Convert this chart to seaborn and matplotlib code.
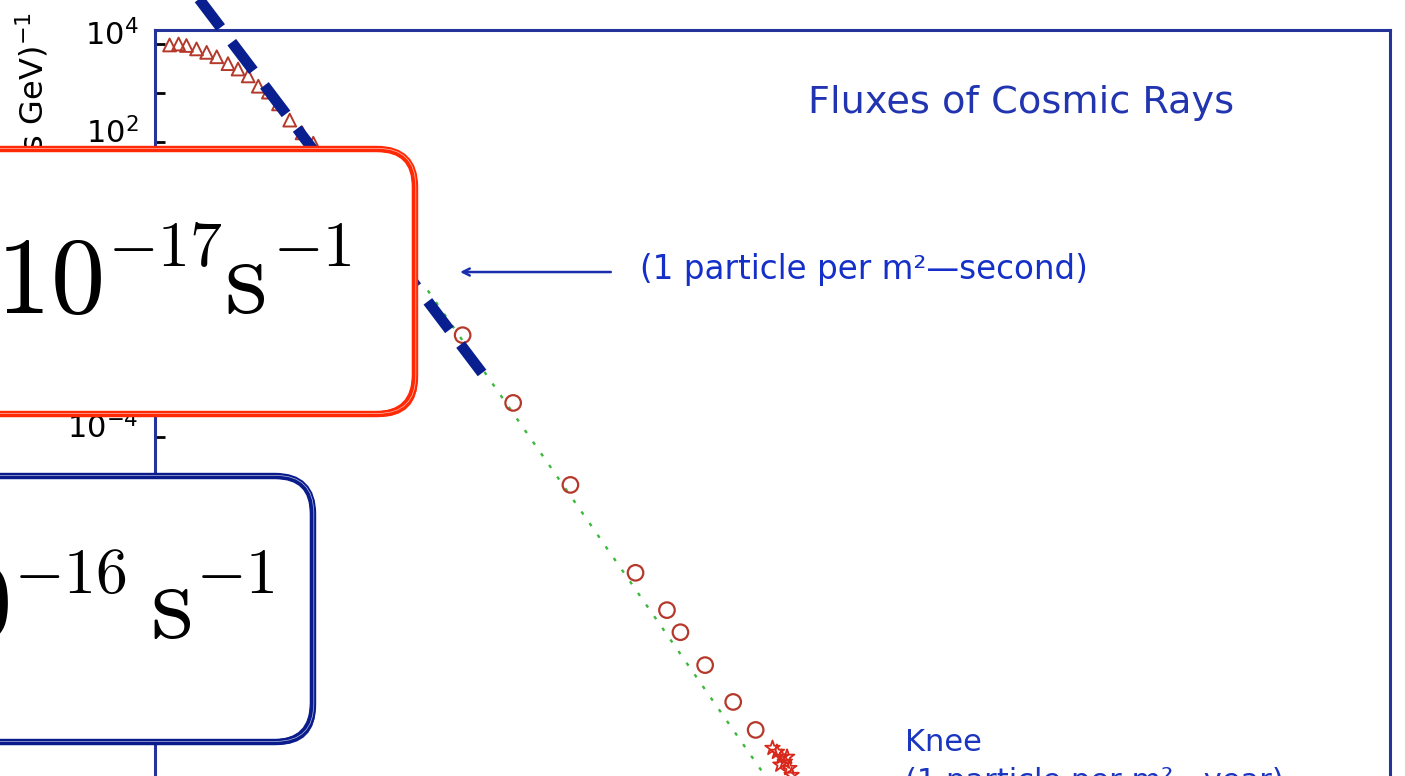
import numpy as np
import matplotlib
matplotlib.use("Agg")
import matplotlib.pyplot as plt
import matplotlib.transforms as mtransforms
from matplotlib.patches import FancyBboxPatch
from matplotlib.ticker import FixedLocator, FuncFormatter, NullLocator
import pandas as pd
import seaborn as sns

# Cosmic-ray all-particle spectrum: log10 energy (eV) and log10 flux (m^2 sr s GeV)^-1
low_log_energy = [9.13, 9.21, 9.28, 9.37, 9.46, 9.55, 9.65, 9.74, 9.83, 9.92, 10.01, 10.10, 10.20, 10.31, 10.41]
low_log_flux = [3.98, 4.00, 3.97, 3.90, 3.83, 3.74, 3.60, 3.49, 3.35, 3.14, 3.02, 2.78, 2.45, 2.19, 1.98]

mid_log_energy = [11.74, 12.19, 12.70, 13.28, 13.56, 13.68, 13.90, 14.15, 14.35]
mid_log_flux = [-1.93, -3.31, -4.98, -6.77, -7.53, -7.98, -8.65, -9.40, -9.97]

knee_log_energy = [14.50, 14.54, 14.58, 14.61, 14.65, 14.57, 14.63, 14.67]
knee_log_flux = [-10.34, -10.42, -10.52, -10.62, -10.75, -10.68, -10.52, -10.89]

# power-law fit through the direct measurements
fit_log_energy = [11.43, 14.80]
fit_log_flux = [-1.02, -12.11]

# steeper guide line drawn over the low-energy part
guide_log_energy = [9.365, 11.913]
guide_log_flux = [5.00, -2.70]

# "1 particle per m^2-second" level
one_per_m2s_log_energy = 11.717
one_per_m2s_log_flux = -0.644

tick_exponents = list(range(4, -13, -1))
labelled_exponents = [4, 2, 0, -2, -4, -6, -8, -10]

title_text = "Fluxes of Cosmic Rays"
arrow_text = "(1 particle per m\u00b2\u2014second)"
knee_text = "Knee\n(1 particle per m\u00b2\u2014year)"
ylabel_text = "Flux (m$^2$ sr s GeV)$^{-1}$"
red_rate_exponent = "\u221217"
blue_rate_exponent = "\u221216"

W, H = 1405, 776
sns.set_style("white")
plt.rcParams["font.family"] = ["DejaVu Sans"]
plt.rcParams["mathtext.fontset"] = "dejavusans"

fig = plt.figure(figsize=(W / 100, H / 100), dpi=100)
fig.patch.set_facecolor("white")
# pixel coordinates measured from the top-left corner
px = mtransforms.Affine2D().scale(1 / W, -1 / H).translate(0, 1) + fig.transFigure

ax_left, ax_right, ax_top = 155, 1390, 30
decade_px = 49.1
y_top_log = 4 + 14 / decade_px
y_bottom_log = -12
ax_bottom = 44 + (4 - y_bottom_log) * decade_px
ax = fig.add_axes([ax_left / W, 1 - ax_bottom / H,
                   (ax_right - ax_left) / W, (ax_bottom - ax_top) / H])
ax.set_xscale("log")
ax.set_yscale("log")
ax.set_xlim(1e9, 1e20)
ax.set_ylim(10.0 ** y_bottom_log, 10.0 ** y_top_log)

navy = "#23339a"
for side in ["left", "top", "right", "bottom"]:
    ax.spines[side].set_color(navy)
    ax.spines[side].set_linewidth(2.2)

low = pd.DataFrame({"E": 10.0 ** np.array(low_log_energy), "F": 10.0 ** np.array(low_log_flux)})
mid = pd.DataFrame({"E": 10.0 ** np.array(mid_log_energy), "F": 10.0 ** np.array(mid_log_flux)})
knee = pd.DataFrame({"E": 10.0 ** np.array(knee_log_energy), "F": 10.0 ** np.array(knee_log_flux)})
fit = pd.DataFrame({"E": 10.0 ** np.array(fit_log_energy), "F": 10.0 ** np.array(fit_log_flux)})
guide = pd.DataFrame({"E": 10.0 ** np.array(guide_log_energy), "F": 10.0 ** np.array(guide_log_flux)})

point_red = "#b5392b"
sns.lineplot(data=fit, x="E", y="F", ax=ax, color="#3db83d", linewidth=1.7,
             linestyle=(0, (1.5, 4.5)), zorder=2, legend=False)
sns.scatterplot(data=low, x="E", y="F", ax=ax, marker="^", s=85, facecolor="none",
                edgecolor=point_red, linewidth=1.4, zorder=3, legend=False)
sns.scatterplot(data=mid, x="E", y="F", ax=ax, marker="o", s=125, facecolor="none",
                edgecolor=point_red, linewidth=1.6, zorder=3, legend=False)
sns.scatterplot(data=knee, x="E", y="F", ax=ax, marker="*", s=120, facecolor="none",
                edgecolor="#d8281c", linewidth=1.3, zorder=3, legend=False)
sns.lineplot(data=guide, x="E", y="F", ax=ax, color="#0a1f8f",
             linewidth=7.8, zorder=4, legend=False)
gl = ax.lines[-1]
gl.set_dashes((3.3, 1.7))
gl.set_dash_capstyle("butt")
gl.set_clip_on(False)

ax.set_xlabel("")
ax.set_ylabel("")

ax.yaxis.set_major_locator(FixedLocator([10.0 ** e for e in tick_exponents]))
ax.yaxis.set_minor_locator(NullLocator())
ax.xaxis.set_minor_locator(NullLocator())


def exp_label(v, pos):
    e = int(round(np.log10(v)))
    return f"$10^{{{e}}}$" if e in labelled_exponents else ""


ax.yaxis.set_major_formatter(FuncFormatter(exp_label))
ax.tick_params(axis="y", which="major", direction="in", length=7, width=2,
               color="black", labelsize=22, pad=12, labelcolor="black",
               left=True, right=False)
ax.tick_params(axis="x", which="major", direction="in", bottom=True, top=False)
shift = mtransforms.ScaledTranslation(0, 12 / 100, fig.dpi_scale_trans)
for lab in ax.yaxis.get_majorticklabels():
    lab.set_transform(lab.get_transform() + shift)

# annotation arrow and captions
ax.annotate("", xy=(10.0 ** one_per_m2s_log_energy, 10.0 ** one_per_m2s_log_flux),
            xytext=(10.0 ** 13.06, 10.0 ** one_per_m2s_log_flux),
            arrowprops=dict(arrowstyle="->,head_length=0.5,head_width=0.25",
                            color="#1b2fae", lw=1.8, shrinkA=0, shrinkB=0))
ax.text(10.0 ** 13.32, 10.0 ** (one_per_m2s_log_flux + 0.05), arrow_text,
        fontsize=23.5, color="#1530c8", ha="left", va="center")

fig.text(808, 103, title_text, transform=px, fontsize=27.5, color="#2235b0",
         ha="left", va="center")
fig.text(905, 728, knee_text, transform=px, fontsize=22, color="#1a35c0",
         ha="left", va="top", linespacing=1.45)
fig.text(32, 12, ylabel_text, transform=px, fontsize=23, color="black",
         rotation=90, ha="center", va="top")


def sketch_box(x0, y0, x1, y1, color):
    # rounded callout drawn with several slightly offset strokes
    base = FancyBboxPatch((x0, y0), x1 - x0, y1 - y0,
                          boxstyle="round,pad=0,rounding_size=38",
                          transform=px, facecolor="white", edgecolor=color,
                          linewidth=4.6, zorder=20)
    fig.patches.append(base)
    for dx, dy, lw, a in [(-2.2, -1.8, 1.3, 0.9), (2.0, 2.2, 1.2, 0.9), (0.8, -0.6, 0.5, 0.7)]:
        c = "white" if a == 0.7 else color
        p = FancyBboxPatch((x0 + dx, y0 + dy), x1 - x0, y1 - y0,
                           boxstyle="round,pad=0,rounding_size=38",
                           transform=px, facecolor="none", edgecolor=c,
                           linewidth=lw, alpha=a, zorder=21)
        fig.patches.append(p)


def rate_label(x_main, base_main, x_sup, x_s, x_sup2, base_sup, exponent):
    # "10^{exp} s^{-1}" set in Computer Modern, with reduced superscripts
    big, small = 78, 46
    kw = dict(transform=px, color="black", ha="left", va="baseline",
              math_fontfamily="cm", zorder=30)
    fig.text(x_main, base_main, r"$10$", fontsize=big, **kw)
    fig.text(x_sup, base_sup, "$" + exponent.replace("\u2212", "-") + "$", fontsize=small, **kw)
    fig.text(x_s, base_main, r"$\mathrm{s}$", fontsize=big, **kw)
    fig.text(x_sup2, base_sup, r"$-1$", fontsize=small, **kw)


sketch_box(-90, 149, 415, 414, "#ff2a05")
sketch_box(-90, 476, 313, 742, "#0a1c8c")

rate_label(-4, 313, 108, 224, 273, 266, red_rate_exponent)
rate_label(-97, 638, 14, 150, 196, 593, blue_rate_exponent)

fig.savefig("out.png", dpi=100, facecolor="white")
